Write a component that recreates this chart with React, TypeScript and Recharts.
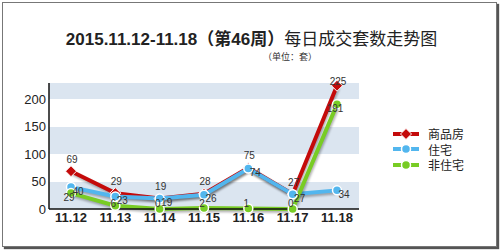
import { LineChart, Line, XAxis, YAxis, CartesianGrid, LabelList } from "recharts";

const days = ["11.12", "11.13", "11.14", "11.15", "11.16", "11.17", "11.18"];
const commercial = [69, 29, 19, 28, 75, 27, 225];
const residential = [40, 23, 19, 26, 74, 27, 34];
const nonResidential = [29, 6, 0, 2, 1, 0, 191];
const yTicks = [0, 50, 100, 150, 200];

const data = days.map((day, i) => ({
  day,
  commercial: commercial[i],
  residential: residential[i],
  nonResidential: nonResidential[i],
}));

const RED = "#c40a0a";
const BLUE = "#52b6ee";
const GREEN = "#78cc24";
const BAND = "#dbe5f0";

// plot area edges (from chart margins) used to keep labels inside
const PLOT_TOP = 83;
const PLOT_BOTTOM = 209;

const series = [
  { key: "commercial", name: "商品房", color: RED, shape: "diamond", dx: 1, dy: -12 },
  { key: "residential", name: "住宅", color: BLUE, shape: "circle", dx: 7, dy: 4 },
  { key: "nonResidential", name: "非住宅", color: GREEN, shape: "circle", dx: -2, dy: 4 },
];

function Marker({ cx, cy, shape, color }: { cx: number; cy: number; shape: string; color: string }) {
  if (shape === "diamond") {
    const r = 5.5;
    return (
      <polygon
        points={`${cx},${cy - r} ${cx + r},${cy} ${cx},${cy + r} ${cx - r},${cy}`}
        fill={color}
        stroke="#fff"
        strokeWidth={1}
      />
    );
  }
  return <circle cx={cx} cy={cy} r={4.5} fill={color} stroke="#fff" strokeWidth={1.5} />;
}

function makeLabel(dx: number, dy: number) {
  return (props: any) => {
    const { x, y, value } = props;
    const ly = Math.max(PLOT_TOP - 2, Math.min(y + dy, PLOT_BOTTOM - 6));
    return (
      <text
        x={x + dx}
        y={ly}
        dy="0.35em"
        textAnchor="middle"
        fontSize={10}
        fill="#333"
        fontFamily="Arial, 'Liberation Sans', sans-serif"
      >
        {value}
      </text>
    );
  };
}

export default function App() {
  return (
    <div
      style={{
        position: "absolute",
        left: 0,
        top: 0,
        width: 500,
        height: 251,
        background: "#fff",
        fontFamily: "Arial, 'Liberation Sans', sans-serif",
      }}
    >
      <style>{`.recharts-line-curve { filter: drop-shadow(1px 2px 1px rgba(0,0,0,0.3)); }`}</style>
      <div
        style={{
          position: "absolute",
          left: 2,
          top: 2,
          width: 493,
          height: 243,
          border: "1px solid #777",
          boxShadow: "2px 2px 1px #555",
        }}
      />
      <div
        style={{
          position: "absolute",
          left: 0,
          top: 29,
          width: 503,
          textAlign: "center",
          fontSize: 17,
          lineHeight: "22px",
          color: "#222",
          whiteSpace: "nowrap",
          fontFamily: "Arial, 'Liberation Sans', 'Noto Sans CJK SC', sans-serif",
        }}
      >
        <b>2015.11.12-11.18（第46周）</b>
        <span>每日成交套数走势图</span>
      </div>
      <div
        style={{
          position: "absolute",
          left: 240,
          top: 51,
          width: 100,
          textAlign: "center",
          fontSize: 9,
          lineHeight: "12px",
          color: "#333",
          fontFamily: "'Noto Sans CJK SC', sans-serif",
        }}
      >
        （单位：套）
      </div>
      <div style={{ position: "absolute", left: 0, top: 0 }}>
        <LineChart width={500} height={251} data={data} margin={{ top: PLOT_TOP, right: 141, bottom: 0, left: 0 }}>
          <CartesianGrid
            vertical={false}
            horizontal
            stroke="transparent"
            horizontalFill={[BAND, "#fff", BAND, "#fff", BAND]}
            fillOpacity={1}
          />
          <XAxis
            dataKey="day"
            padding={{ left: 22, right: 22 }}
            height={42}
            tickSize={0}
            tickMargin={4}
            axisLine={{ stroke: "#111", strokeWidth: 1.5 }}
            tick={{ fill: "#222", fontSize: 13, fontWeight: 700 }}
            interval={0}
          />
          <YAxis
            width={49}
            domain={[0, 230]}
            ticks={yTicks}
            tickSize={0}
            tickMargin={3}
            axisLine={{ stroke: "#111", strokeWidth: 1.5 }}
            tick={{ fill: "#222", fontSize: 13 }}
            interval={0}
          />
          {series.map((s) => (
            <Line
              key={s.key}
              dataKey={s.key}
              name={s.name}
              type="linear"
              stroke={s.color}
              strokeWidth={4}
              isAnimationActive={false}
              dot={(p: any) => <Marker key={p.index} cx={p.cx} cy={p.cy} shape={s.shape} color={s.color} />}
              activeDot={false}
            >
              <LabelList dataKey={s.key} content={makeLabel(s.dx, s.dy)} />
            </Line>
          ))}
        </LineChart>
      </div>
      <div style={{ position: "absolute", left: 392, top: 126 }}>
        {series.map((s) => (
          <div key={s.key} style={{ display: "flex", alignItems: "center", height: 15.5 }}>
            <svg width={28} height={12}>
              <line x1={1} y1={6} x2={27} y2={6} stroke={s.color} strokeWidth={4} />
              <Marker cx={14} cy={6} shape={s.shape} color={s.color} />
            </svg>
            <span
              style={{
                marginLeft: 8,
                fontSize: 12,
                color: "#222",
                fontFamily: "'Noto Sans CJK SC', sans-serif",
              }}
            >
              {s.name}
            </span>
          </div>
        ))}
      </div>
    </div>
  );
}
